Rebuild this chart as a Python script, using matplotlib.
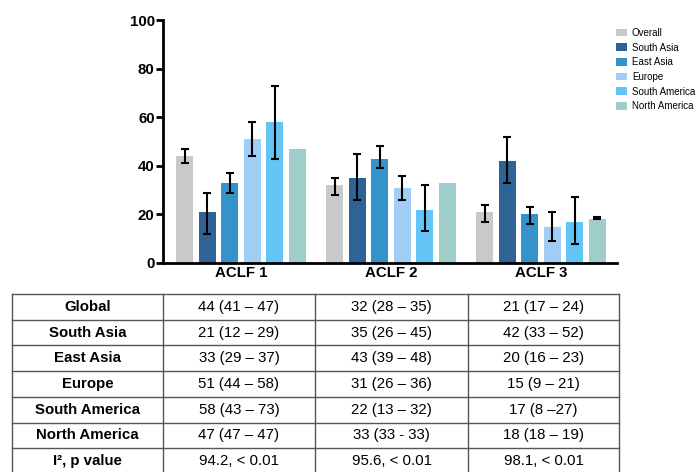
import numpy as np
import matplotlib.pyplot as plt

plt.rcParams["font.family"] = ["Liberation Sans", "DejaVu Sans"]

grades = ["ACLF 1", "ACLF 2", "ACLF 3"]
regions = ["Overall", "South Asia", "East Asia", "Europe", "South America", "North America"]
colors = ["#c9c9c9", "#2f6396", "#3493cb", "#a2cdf6", "#62c5f6", "#9ecdcb"]

# estimate, lower, upper per region (rows) and ACLF grade (columns)
est = [[44, 32, 21], [21, 35, 42], [33, 43, 20], [51, 31, 15], [58, 22, 17], [47, 33, 18]]
low = [[41, 28, 17], [12, 26, 33], [29, 39, 16], [44, 26, 9], [43, 13, 8], [47, 33, 18]]
high = [[47, 35, 24], [29, 45, 52], [37, 48, 23], [58, 36, 21], [73, 32, 27], [47, 33, 19]]

row_labels = ["Global", "South Asia", "East Asia", "Europe", "South America", "North America", "I\u00b2, p value"]
cells = [
    ["44 (41 \u2013 47)", "32 (28 \u2013 35)", "21 (17 \u2013 24)"],
    ["21 (12 \u2013 29)", "35 (26 \u2013 45)", "42 (33 \u2013 52)"],
    ["33 (29 \u2013 37)", "43 (39 \u2013 48)", "20 (16 \u2013 23)"],
    ["51 (44 \u2013 58)", "31 (26 \u2013 36)", "15 (9 \u2013 21)"],
    ["58 (43 \u2013 73)", "22 (13 \u2013 32)", "17 (8 \u201327)"],
    ["47 (47 \u2013 47)", "33 (33 - 33)", "18 (18 \u2013 19)"],
    ["94.2, < 0.01", "95.6, < 0.01", "98.1, < 0.01"],
]

fs = 10.8

fig = plt.figure(figsize=(6.96, 4.72), dpi=100)
ax = fig.add_axes([163 / 696, 1 - 263 / 472, (617 - 163) / 696, (263 - 20) / 472])

x = np.arange(len(grades))
pitch = 0.15
width = 0.113
for i, reg in enumerate(regions):
    pos = x + (i - 2.5) * pitch
    ax.bar(pos, est[i], width=width, color=colors[i], label=reg, zorder=2)
    e = np.array(est[i])
    lo = np.array(low[i])
    hi = np.array(high[i])
    m = hi > lo
    ax.errorbar(pos[m], e[m], yerr=[e[m] - lo[m], hi[m] - e[m]], fmt="none",
                ecolor="black", elinewidth=1.5, capsize=2.8, capthick=1.5, zorder=3)

ax.set_xlim(-0.52, 2.507)
ax.set_ylim(0, 100)
ax.set_yticks([0, 20, 40, 60, 80, 100])
ax.set_xticks(x)
ax.set_xticklabels(grades, fontsize=fs, fontweight="bold")
ax.tick_params(axis="x", length=0, pad=2)
ax.tick_params(axis="y", length=5, width=2, labelsize=fs, pad=1)
for lab in ax.get_yticklabels():
    lab.set_fontweight("bold")
for s in ["top", "right"]:
    ax.spines[s].set_visible(False)
for s in ["left", "bottom"]:
    ax.spines[s].set_linewidth(2)

fig.legend(loc="upper left", bbox_to_anchor=(612 / 696, 1 - 24 / 472), frameon=False,
           fontsize=7, handlelength=1.1, handleheight=0.8, handletextpad=0.55,
           labelspacing=0.48, borderaxespad=0)

# table below the chart
tab = fig.add_axes([0, 0, 1, 1])
tab.set_xlim(0, 696)
tab.set_ylim(472, 0)
tab.axis("off")
col_edges = [12, 163, 315, 468, 619]
top = 294
rh = 25.7
n = len(row_labels)
lc = "#555555"
for k in range(n + 1):
    tab.plot([col_edges[0], col_edges[-1]], [top + k * rh] * 2, color=lc, lw=1)
for xe in col_edges:
    tab.plot([xe, xe], [top, top + n * rh], color=lc, lw=1)
for r in range(n):
    yc = top + (r + 0.5) * rh
    tab.text((col_edges[0] + col_edges[1]) / 2, yc, row_labels[r], ha="center", va="center",
             fontsize=fs, fontweight="bold")
    for c in range(3):
        tab.text((col_edges[c + 1] + col_edges[c + 2]) / 2, yc, cells[r][c], ha="center",
                 va="center", fontsize=fs)

fig.savefig("out.png", dpi=100)
